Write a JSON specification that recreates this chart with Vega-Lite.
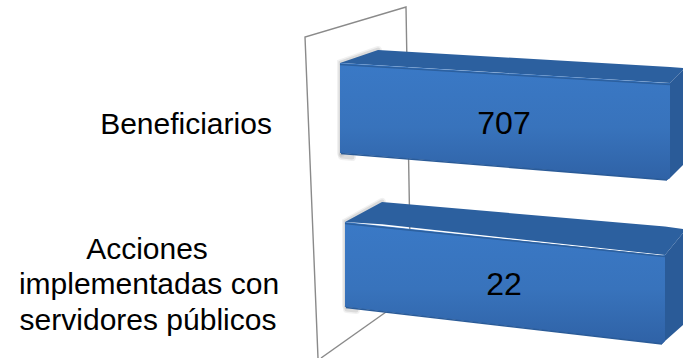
{
"$schema":"https://vega.github.io/schema/vega-lite/v6.json",
"width":683,"height":358,"padding":0,
"autosize":{"type":"fit","contains":"padding"},
"background":"white",
"view":{"stroke":null},
"datasets":{
"wall":[
{"s":"a","px":318,"py":358},{"s":"a","px":305,"py":37},{"s":"a","px":406,"py":7},{"s":"a","px":411,"py":300},
{"s":"b","px":321,"py":358},{"s":"b","px":386,"py":312}],
"shadow":[
{"s":"a","px":341,"py":153},{"s":"a","px":341,"py":63},{"s":"a","px":378,"py":50},
{"s":"a2","px":342,"py":156},{"s":"a2","px":352,"py":157},
{"s":"b","px":346,"py":305},{"s":"b","px":346,"py":222},{"s":"b","px":382,"py":202},
{"s":"b2","px":347,"py":309},{"s":"b2","px":356,"py":310}],
"faces":[
{"part":"top1","face":"top","px":340,"top":63,"bottom":63},
{"part":"top1","face":"top","px":378,"top":50,"bottom":65.3},
{"part":"top1","face":"top","px":670,"top":67,"bottom":83},
{"part":"top1","face":"top","px":683,"top":68,"bottom":70},
{"part":"side1","face":"side","px":667,"top":86,"bottom":180},
{"part":"side1","face":"side","px":670,"top":83,"bottom":178},
{"part":"side1","face":"side","px":683,"top":70,"bottom":165},
{"part":"top2","face":"top","px":345,"top":222,"bottom":222},
{"part":"top2","face":"top","px":382,"top":202,"bottom":224.3},
{"part":"top2","face":"top","px":665,"top":226.5,"bottom":255},
{"part":"top2","face":"top","px":683,"top":229,"bottom":233},
{"part":"side2","face":"side","px":662,"top":260,"bottom":344},
{"part":"side2","face":"side","px":665,"top":255,"bottom":341},
{"part":"side2","face":"side","px":683,"top":233,"bottom":325}],
"front":[
{"part":"f1","px":340,"top":63,"bottom":153},
{"part":"f1","px":667,"top":83,"bottom":180},
{"part":"f1","px":670,"top":83,"bottom":178},
{"part":"f2","px":345,"top":222,"bottom":307},
{"part":"f2","px":662,"top":255.5,"bottom":344},
{"part":"f2","px":665,"top":255,"bottom":341}],
"edges":[
{"e":"t1","kind":"light","px":340,"py":64.5},{"e":"t1","kind":"light","px":670,"py":84.5},
{"e":"t2","kind":"light","px":345,"py":223.5},{"e":"t2","kind":"light","px":665,"py":256.5},
{"e":"b1","kind":"dark","px":341,"py":153.5},{"e":"b1","kind":"dark","px":667,"py":180},
{"e":"b2","kind":"dark","px":346,"py":307.5},{"e":"b2","kind":"dark","px":662,"py":344}],
"cats":[
{"t":"Beneficiarios","px":186,"py":125},
{"t":"Acciones","px":147,"py":250},
{"t":"implementadas con","px":149,"py":285},
{"t":"servidores públicos","px":148,"py":321}],
"vals":[
{"t":"707","px":504,"py":124},
{"t":"22","px":504,"py":285}]
},
"encoding":{
"x":{"field":"px","type":"quantitative","scale":{"domain":[0,683],"nice":false,"zero":false},"axis":null},
"y":{"type":"quantitative","scale":{"domain":[358,0],"nice":false,"zero":false},"axis":null}
},
"layer":[
{"data":{"name":"wall"},"mark":{"type":"line","stroke":"#8a8a8a","strokeWidth":1.4,"clip":true},
 "encoding":{"y":{"field":"py","type":"quantitative"},"detail":{"field":"s"},"order":{"field":"__none"}}},
{"data":{"name":"shadow"},"mark":{"type":"line","stroke":"#8c8c8c","strokeWidth":8,"opacity":0.12,"strokeCap":"round"},
 "encoding":{"y":{"field":"py","type":"quantitative"},"detail":{"field":"s"},"order":{"field":"__none"}}},
{"data":{"name":"shadow"},"mark":{"type":"line","stroke":"#8c8c8c","strokeWidth":5,"opacity":0.22,"strokeCap":"round"},
 "encoding":{"y":{"field":"py","type":"quantitative"},"detail":{"field":"s"},"order":{"field":"__none"}}},
{"data":{"name":"faces"},"mark":{"type":"area","orient":"vertical","clip":true},
 "encoding":{"y":{"field":"top","type":"quantitative"},"y2":{"field":"bottom"},"detail":{"field":"part"},
 "color":{"field":"face","type":"nominal","legend":null,"scale":{"domain":["top","side"],"range":["#2c609f","#2a5b98"]}}}},
{"data":{"name":"front"},"mark":{"type":"area","orient":"vertical","color":{"gradient":"linear","x1":0,"y1":0,"x2":0,"y2":1,"stops":[{"offset":0,"color":"#3a79c6"},{"offset":0.55,"color":"#3873bc"},{"offset":1,"color":"#2f62a6"}]}},
 "encoding":{"y":{"field":"top","type":"quantitative"},"y2":{"field":"bottom"},"detail":{"field":"part"}}},
{"data":{"name":"edges"},"mark":{"type":"line","strokeWidth":1.6},
 "encoding":{"y":{"field":"py","type":"quantitative"},"detail":{"field":"e"},"order":{"field":"__none"},
 "color":{"field":"kind","type":"nominal","legend":null,"scale":{"domain":["light","dark"],"range":["#4484d2","#22518f"]}}}},
{"data":{"name":"cats"},"mark":{"type":"text","font":"Liberation Sans","fontSize":30,"align":"center","baseline":"middle","color":"#000000"},
 "encoding":{"y":{"field":"py","type":"quantitative"},"text":{"field":"t"}}},
{"data":{"name":"vals"},"mark":{"type":"text","font":"Liberation Sans","fontSize":32,"align":"center","baseline":"middle","color":"#000000"},
 "encoding":{"y":{"field":"py","type":"quantitative"},"text":{"field":"t"}}}
]
}
